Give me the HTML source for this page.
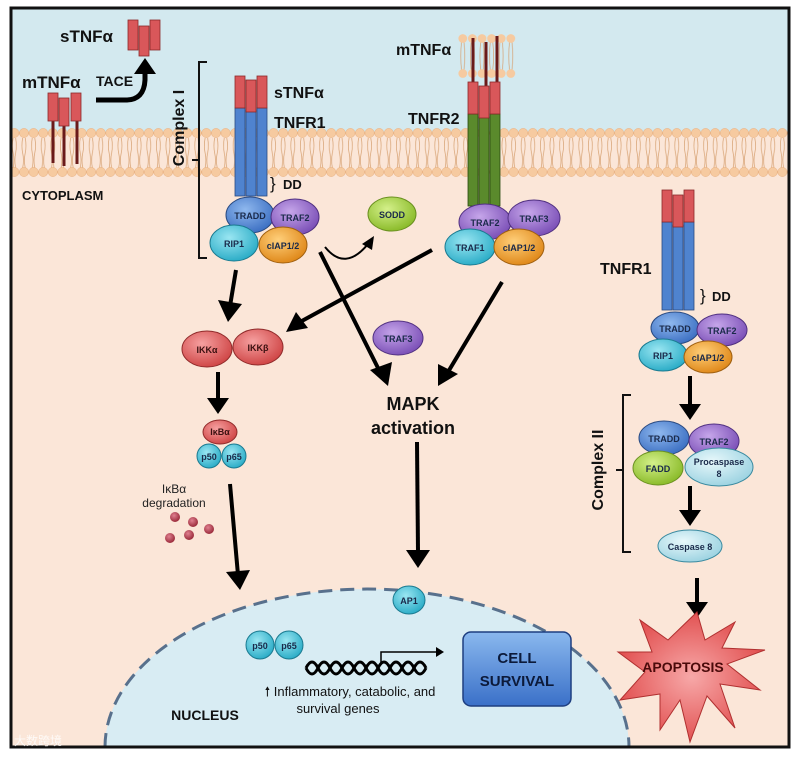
<!DOCTYPE html>
<html><head><meta charset="utf-8"><style>
html,body{margin:0;padding:0;background:#fff;width:800px;height:758px;overflow:hidden;}
svg{display:block;}
text{font-family:"Liberation Sans",sans-serif;}
</style></head><body>
<svg width="800" height="758" viewBox="0 0 800 758" xmlns="http://www.w3.org/2000/svg">
<defs>
<radialGradient id="gB" cx="40%" cy="35%" r="65%"><stop offset="0" stop-color="#8fb8ee"/><stop offset="1" stop-color="#3f72c4"/></radialGradient>
<radialGradient id="gP" cx="40%" cy="35%" r="65%"><stop offset="0" stop-color="#c6a6ea"/><stop offset="1" stop-color="#7d52b8"/></radialGradient>
<radialGradient id="gC" cx="40%" cy="35%" r="65%"><stop offset="0" stop-color="#9ae6f2"/><stop offset="1" stop-color="#2eaec8"/></radialGradient>
<radialGradient id="gO" cx="40%" cy="35%" r="65%"><stop offset="0" stop-color="#ffcf7a"/><stop offset="1" stop-color="#e08a1c"/></radialGradient>
<radialGradient id="gG" cx="40%" cy="35%" r="65%"><stop offset="0" stop-color="#d4f08a"/><stop offset="1" stop-color="#8cbc2c"/></radialGradient>
<radialGradient id="gR" cx="40%" cy="35%" r="65%"><stop offset="0" stop-color="#f6a0a0"/><stop offset="1" stop-color="#d04848"/></radialGradient>
<radialGradient id="gL" cx="40%" cy="35%" r="65%"><stop offset="0" stop-color="#e8f8fb"/><stop offset="1" stop-color="#9fd4e2"/></radialGradient>
<radialGradient id="gD" cx="40%" cy="35%" r="65%"><stop offset="0" stop-color="#e08090"/><stop offset="1" stop-color="#9a2a3a"/></radialGradient>
<linearGradient id="gBox" x1="0" y1="0" x2="0" y2="1"><stop offset="0" stop-color="#8ab8ee"/><stop offset="1" stop-color="#3a70c8"/></linearGradient>
<radialGradient id="gStar" cx="50%" cy="50%" r="55%"><stop offset="0" stop-color="#f7a8a8"/><stop offset="1" stop-color="#e04a4a"/></radialGradient>
<pattern id="mem" x="0" y="128" width="9.6" height="50" patternUnits="userSpaceOnUse">
<path d="M3.5 10 Q2 18 3.5 25 Q5 32 3.5 40 M6 10 Q7.5 18 6 25 Q4.5 32 6 40" stroke="#d6a070" stroke-width="0.7" fill="none"/>
<circle cx="4.8" cy="5" r="4.6" fill="#f6caa0" stroke="#e8b080" stroke-width="0.5"/>
<circle cx="4.8" cy="44" r="4.6" fill="#f6caa0" stroke="#e8b080" stroke-width="0.5"/>
</pattern>
<pattern id="ves" x="458" y="34" width="9.6" height="44" patternUnits="userSpaceOnUse">
<path d="M3.5 8 Q2 22 3.5 36 M6 8 Q7.5 22 6 36" stroke="#d6a070" stroke-width="0.7" fill="none"/>
<circle cx="4.8" cy="4.5" r="4.4" fill="#f6caa0"/>
<circle cx="4.8" cy="39.5" r="4.4" fill="#f6caa0"/>
</pattern>
</defs>

<rect x="0" y="0" width="800" height="758" fill="#fff"/>
<rect x="11" y="8" width="778" height="740" fill="#fbe6d8"/>
<rect x="11" y="8" width="778" height="125" fill="#d3e9ef"/>
<rect x="11" y="128" width="778" height="50" fill="url(#mem)"/>

<path d="M105 747 A262 158 0 0 1 629 747 Z" fill="#d8ecf3"/>
<path d="M105 747 A262 158 0 0 1 629 747" fill="none" stroke="#58708c" stroke-width="3" stroke-dasharray="14,8"/>

<rect x="11" y="8" width="778" height="739" fill="none" stroke="#111" stroke-width="3"/>

<text x="60" y="42" font-size="17" font-weight="bold" fill="#111">sTNFα</text>
<g fill="#d9575a" stroke="#8a2a2a" stroke-width="0.8">
<rect x="128" y="20" width="10" height="30"/><rect x="150" y="20" width="10" height="30"/><rect x="139" y="26" width="10" height="30"/>
</g>
<text x="22" y="88" font-size="17" font-weight="bold" fill="#111">mTNFα</text>
<text x="96" y="86" font-size="14" font-weight="bold" fill="#111">TACE</text>
<g stroke="#6a1a1a" stroke-width="3"><line x1="53" y1="120" x2="53" y2="163"/><line x1="64" y1="120" x2="64" y2="166"/><line x1="77" y1="120" x2="77" y2="164"/></g>
<g fill="#d9575a" stroke="#8a2a2a" stroke-width="0.8">
<rect x="48" y="93" width="10" height="28"/><rect x="71" y="93" width="10" height="28"/><rect x="59" y="98" width="10" height="28"/>
</g>
<path d="M96 100 L126 100 Q144 100 145 80 L145 72" stroke="#000" stroke-width="5" fill="none"/>
<path d="M134 74 L145 58 L156 74 Z" fill="#000"/>
<text x="22" y="200" font-size="13" font-weight="bold" fill="#111">CYTOPLASM</text>

<path d="M207 62 L199 62 L199 258 L207 258 M199 160 L192 160" stroke="#111" stroke-width="2" fill="none"/>
<text transform="translate(184,128) rotate(-90)" font-size="16" font-weight="bold" text-anchor="middle" fill="#111">Complex I</text>

<g stroke="#2a4a80" stroke-width="0.8" fill="#4f83cf">
<rect x="235" y="108" width="10" height="88"/><rect x="257" y="108" width="10" height="88"/><rect x="246" y="110" width="10" height="86"/>
</g>
<g fill="#d9575a" stroke="#8a2a2a" stroke-width="0.8">
<rect x="235" y="76" width="10" height="32"/><rect x="257" y="76" width="10" height="32"/><rect x="246" y="80" width="10" height="32"/>
</g>
<text x="274" y="98" font-size="16" font-weight="bold" fill="#111">sTNFα</text>
<text x="274" y="128" font-size="16" font-weight="bold" fill="#111">TNFR1</text>
<text x="270" y="189" font-size="17" fill="#111">}</text><text x="283" y="189" font-size="13" font-weight="bold" fill="#111">DD</text>

<g font-size="9" font-weight="bold" text-anchor="middle" fill="#1a2a4a">
<ellipse cx="250" cy="215" rx="24" ry="18" fill="url(#gB)" stroke="#2a4a80"/><text x="250" y="219">TRADD</text>
<ellipse cx="295" cy="217" rx="24" ry="18" fill="url(#gP)" stroke="#503080"/><text x="295" y="221">TRAF2</text>
<ellipse cx="234" cy="243" rx="24" ry="18" fill="url(#gC)" stroke="#1a7a90"/><text x="234" y="247">RIP1</text>
<ellipse cx="283" cy="245" rx="24" ry="18" fill="url(#gO)" stroke="#a06010"/><text x="283" y="249">cIAP1/2</text>
<ellipse cx="392" cy="214" rx="24" ry="17" fill="url(#gG)" stroke="#6a9020"/><text x="392" y="218">SODD</text>
</g>
<path d="M325 247 Q345 272 368 244" stroke="#000" stroke-width="2" fill="none"/>
<path d="M362 244 L374 236 L372 250 Z" fill="#000"/>

<rect x="458" y="34" width="58" height="44" fill="url(#ves)"/>
<text x="396" y="55" font-size="16" font-weight="bold" fill="#111">mTNFα</text>
<g stroke="#6a1a1a" stroke-width="3"><line x1="473" y1="38" x2="473" y2="86"/><line x1="486" y1="42" x2="486" y2="90"/><line x1="497" y1="36" x2="497" y2="86"/></g>
<g stroke="#2a4a10" stroke-width="0.8" fill="#5a8a2c">
<rect x="468" y="114" width="10" height="92"/><rect x="490" y="114" width="10" height="92"/><rect x="479" y="117" width="10" height="95"/>
</g>
<g fill="#d9575a" stroke="#8a2a2a" stroke-width="0.8">
<rect x="468" y="82" width="10" height="32"/><rect x="490" y="82" width="10" height="32"/><rect x="479" y="86" width="10" height="32"/>
</g>
<text x="408" y="124" font-size="16" font-weight="bold" fill="#111">TNFR2</text>
<g font-size="9" font-weight="bold" text-anchor="middle" fill="#1a2a4a">
<ellipse cx="485" cy="222" rx="26" ry="18" fill="url(#gP)" stroke="#503080"/><text x="485" y="226">TRAF2</text>
<ellipse cx="534" cy="218" rx="26" ry="18" fill="url(#gP)" stroke="#503080"/><text x="534" y="222">TRAF3</text>
<ellipse cx="470" cy="247" rx="25" ry="18" fill="url(#gC)" stroke="#1a7a90"/><text x="470" y="251">TRAF1</text>
<ellipse cx="519" cy="247" rx="25" ry="18" fill="url(#gO)" stroke="#a06010"/><text x="519" y="251">cIAP1/2</text>
</g>

<g stroke="#000" stroke-width="4" fill="none">
<line x1="236" y1="270" x2="230" y2="306"/>
<line x1="320" y1="252" x2="380" y2="372"/>
<line x1="432" y1="250" x2="300" y2="322"/>
<line x1="502" y1="282" x2="448" y2="372"/>
<line x1="218" y1="372" x2="218" y2="400"/>
<line x1="230" y1="484" x2="238" y2="575"/>
<line x1="417" y1="442" x2="418" y2="552"/>
<line x1="690" y1="376" x2="690" y2="406"/>
<line x1="690" y1="486" x2="690" y2="512"/>
<line x1="697" y1="578" x2="697" y2="604"/>
</g>
<g fill="#000">
<path d="M218 300 L242 304 L228 322 Z"/>
<path d="M370 370 L392 362 L388 386 Z"/>
<path d="M286 332 L296 312 L308 328 Z"/>
<path d="M438 364 L458 374 L438 386 Z"/>
<path d="M207 398 L229 398 L218 414 Z"/>
<path d="M226 572 L250 570 L240 590 Z"/>
<path d="M406 550 L430 550 L418 568 Z"/>
<path d="M679 404 L701 404 L690 420 Z"/>
<path d="M679 510 L701 510 L690 526 Z"/>
<path d="M686 602 L708 602 L697 618 Z"/>
</g>

<g font-size="9" font-weight="bold" text-anchor="middle" fill="#3a1010">
<ellipse cx="207" cy="349" rx="25" ry="18" fill="url(#gR)" stroke="#902a2a"/><text x="207" y="353">IKKα</text>
<ellipse cx="258" cy="347" rx="25" ry="18" fill="url(#gR)" stroke="#902a2a"/><text x="258" y="351">IKKβ</text>
<ellipse cx="398" cy="338" rx="25" ry="17" fill="url(#gP)" stroke="#503080"/><text x="398" y="342" fill="#1a2a4a">TRAF3</text>
<ellipse cx="220" cy="432" rx="17" ry="12" fill="url(#gR)" stroke="#902a2a"/><text x="220" y="435">IκBα</text>
<ellipse cx="209" cy="456" rx="12" ry="12" fill="url(#gC)" stroke="#1a7a90"/><text x="209" y="460" fill="#1a2a4a">p50</text>
<ellipse cx="234" cy="456" rx="12" ry="12" fill="url(#gC)" stroke="#1a7a90"/><text x="234" y="460" fill="#1a2a4a">p65</text>
</g>
<text x="174" y="493" font-size="12" text-anchor="middle" fill="#222">IκBα</text>
<text x="174" y="507" font-size="12" text-anchor="middle" fill="#222">degradation</text>
<g fill="url(#gD)">
<circle cx="175" cy="517" r="5"/><circle cx="193" cy="522" r="5"/><circle cx="209" cy="529" r="5"/>
<circle cx="170" cy="538" r="5"/><circle cx="189" cy="535" r="5"/>
</g>

<text x="413" y="410" font-size="18" font-weight="bold" text-anchor="middle" fill="#111">MAPK</text>
<text x="413" y="434" font-size="18" font-weight="bold" text-anchor="middle" fill="#111">activation</text>

<g font-size="9" font-weight="bold" text-anchor="middle" fill="#1a2a4a">
<ellipse cx="260" cy="645" rx="14" ry="14" fill="url(#gC)" stroke="#1a7a90"/><text x="260" y="649">p50</text>
<ellipse cx="289" cy="645" rx="14" ry="14" fill="url(#gC)" stroke="#1a7a90"/><text x="289" y="649">p65</text>
<ellipse cx="409" cy="600" rx="16" ry="14" fill="url(#gC)" stroke="#1a7a90"/><text x="409" y="604">AP1</text>
</g>
<path d="M306 668 Q312 656 318 668 T330 668 T342 668 T354 668 T366 668 T378 668 T390 668 T402 668 T414 668 T426 668" stroke="#000" stroke-width="3" fill="none"/>
<path d="M306 668 Q312 680 318 668 T330 668 T342 668 T354 668 T366 668 T378 668 T390 668 T402 668 T414 668 T426 668" stroke="#000" stroke-width="3" fill="none"/>
<path d="M381 665 L381 652 L438 652" stroke="#000" stroke-width="1.5" fill="none"/>
<path d="M436 647 L444 652 L436 657 Z" fill="#000"/>
<text x="350" y="696" font-size="13" text-anchor="middle" fill="#111">🠕 Inflammatory, catabolic, and</text>
<text x="338" y="713" font-size="13" text-anchor="middle" fill="#111">survival genes</text>
<rect x="463" y="632" width="108" height="74" rx="8" fill="url(#gBox)" stroke="#1e3e80" stroke-width="1.5"/>
<text x="517" y="663" font-size="15" font-weight="bold" text-anchor="middle" fill="#0c1a3a">CELL</text>
<text x="517" y="686" font-size="15" font-weight="bold" text-anchor="middle" fill="#0c1a3a">SURVIVAL</text>
<text x="205" y="720" font-size="14" font-weight="bold" text-anchor="middle" fill="#111">NUCLEUS</text>

<g stroke="#2a4a80" stroke-width="0.8" fill="#4f83cf">
<rect x="662" y="222" width="10" height="88"/><rect x="684" y="222" width="10" height="88"/><rect x="673" y="225" width="10" height="85"/>
</g>
<g fill="#d9575a" stroke="#8a2a2a" stroke-width="0.8">
<rect x="662" y="190" width="10" height="32"/><rect x="684" y="190" width="10" height="32"/><rect x="673" y="195" width="10" height="32"/>
</g>
<text x="600" y="274" font-size="16" font-weight="bold" fill="#111">TNFR1</text>
<text x="700" y="301" font-size="17" fill="#111">}</text><text x="712" y="301" font-size="13" font-weight="bold" fill="#111">DD</text>
<g font-size="9" font-weight="bold" text-anchor="middle" fill="#1a2a4a">
<ellipse cx="675" cy="328" rx="24" ry="16" fill="url(#gB)" stroke="#2a4a80"/><text x="675" y="332">TRADD</text>
<ellipse cx="722" cy="330" rx="25" ry="16" fill="url(#gP)" stroke="#503080"/><text x="722" y="334">TRAF2</text>
<ellipse cx="663" cy="355" rx="24" ry="16" fill="url(#gC)" stroke="#1a7a90"/><text x="663" y="359">RIP1</text>
<ellipse cx="708" cy="357" rx="24" ry="16" fill="url(#gO)" stroke="#a06010"/><text x="708" y="361">cIAP1/2</text>
</g>

<path d="M631 395 L623 395 L623 552 L631 552 M623 470 L616 470" stroke="#111" stroke-width="2" fill="none"/>
<text transform="translate(603,470) rotate(-90)" font-size="16" font-weight="bold" text-anchor="middle" fill="#111">Complex II</text>
<g font-size="9" font-weight="bold" text-anchor="middle" fill="#1a2a4a">
<ellipse cx="664" cy="438" rx="25" ry="17" fill="url(#gB)" stroke="#2a4a80"/><text x="664" y="442">TRADD</text>
<ellipse cx="714" cy="441" rx="25" ry="17" fill="url(#gP)" stroke="#503080"/><text x="714" y="445">TRAF2</text>
<ellipse cx="658" cy="468" rx="25" ry="17" fill="url(#gG)" stroke="#6a9020"/><text x="658" y="472">FADD</text>
<ellipse cx="719" cy="467" rx="34" ry="19" fill="url(#gL)" stroke="#3a8aa0"/><text x="719" y="465">Procaspase</text><text x="719" y="477">8</text>
<ellipse cx="690" cy="546" rx="32" ry="16" fill="url(#gL)" stroke="#3a8aa0"/><text x="690" y="550">Caspase 8</text>
</g>

<polygon fill="url(#gStar)" stroke="#b03030" stroke-width="1"
points="697,612 705,640 735,622 722,648 765,650 727,664 760,690 720,684 735,728 707,696 690,742 680,700 660,730 660,694 620,700 645,672 618,652 652,652 640,620 668,640"/>
<text x="683" y="672" font-size="14" font-weight="bold" text-anchor="middle" fill="#4a0a0a">APOPTOSIS</text>

<text x="14" y="745" font-size="12" fill="#fff" opacity="0.8" font-family="'Liberation Sans','Noto Sans CJK SC',sans-serif">大数跨境</text>
</svg>
</body></html>
